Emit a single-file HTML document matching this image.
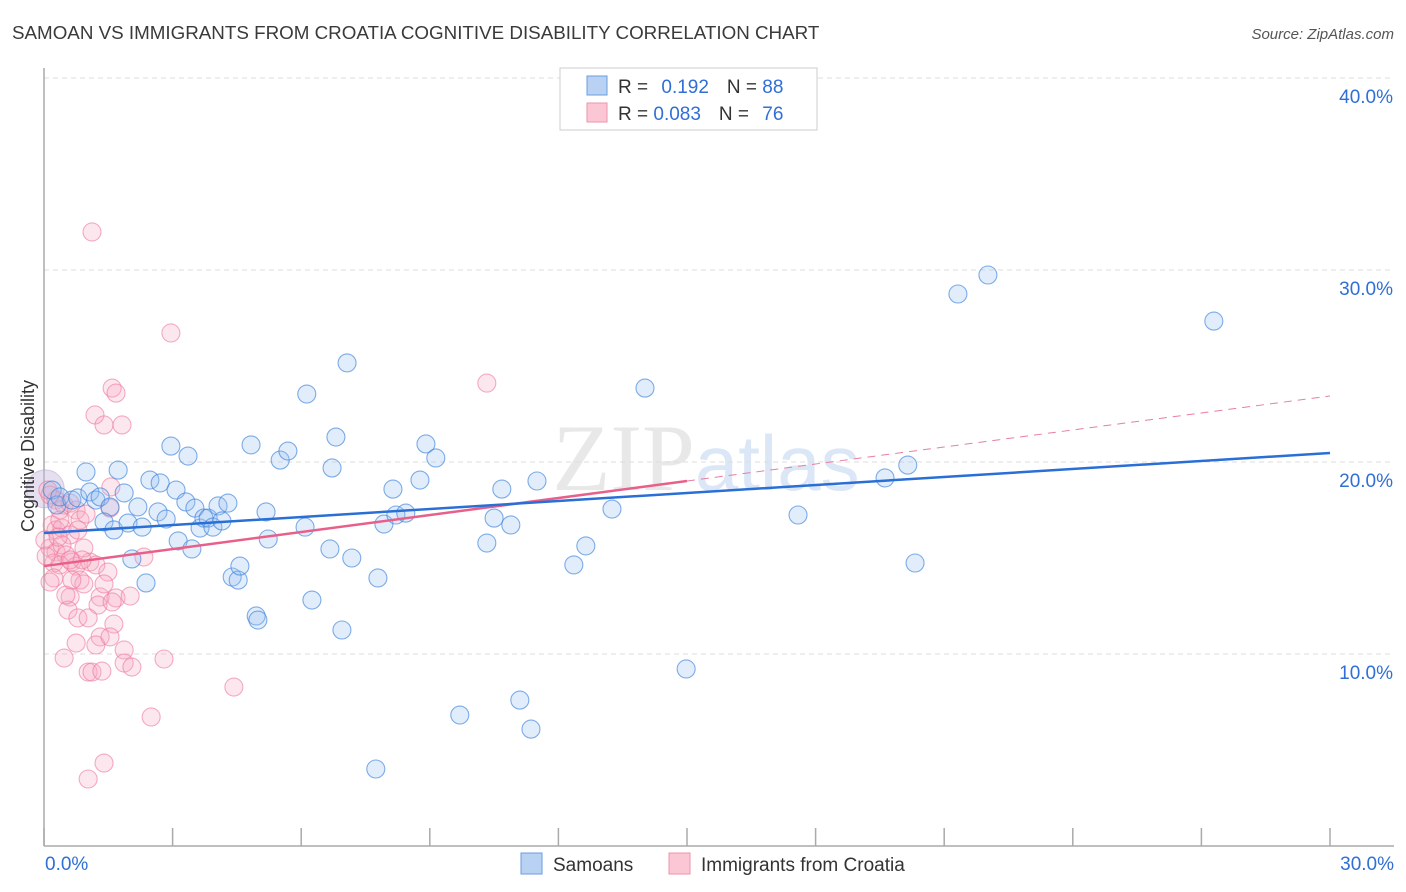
<!DOCTYPE html>
<html><head><meta charset="utf-8"><style>
body{margin:0;background:#fff;font-family:"Liberation Sans",sans-serif}
svg{display:block}
</style></head><body>
<svg id="chart" width="1406" height="892">
<text x="12" y="39" font-size="18.8" fill="#3a3a3a">SAMOAN VS IMMIGRANTS FROM CROATIA COGNITIVE DISABILITY CORRELATION CHART</text>
<text x="1394" y="39" font-size="15" fill="#555" text-anchor="end" font-style="italic">Source: ZipAtlas.com</text>
<text x="706" y="490" font-size="95" fill="#e8e8e8" text-anchor="middle" font-family="Liberation Serif,serif">ZIP<tspan fill="#dbe7f6" font-family="Liberation Sans,sans-serif" font-size="78">atlas</tspan></text>
<g id="grid"></g>
<g id="axes"></g>
<g id="points"></g>
<g id="trends"></g>
<text transform="translate(34,456) rotate(-90)" font-size="18" fill="#333" text-anchor="middle">Cognitive Disability</text>
<g>
<rect x="560" y="68" width="257" height="62" fill="#fff" stroke="#ccc"/>
<rect x="587" y="76" width="20" height="19" fill="#b9d2f3" stroke="#6a9de0"/>
<rect x="587" y="103" width="20" height="19" fill="#fbc7d5" stroke="#ee93ad"/>
<text x="618" y="93" font-size="19" fill="#333">R = <tspan fill="#2f6fd6" dx="8">0.192</tspan><tspan dx="18" fill="#333">N = </tspan><tspan fill="#2f6fd6">88</tspan></text>
<text x="618" y="120" font-size="19" fill="#333">R = <tspan fill="#2f6fd6">0.083</tspan><tspan dx="18" fill="#333">N = </tspan><tspan fill="#2f6fd6" dx="8">76</tspan></text>
</g>
<g>
<rect x="521" y="853" width="21" height="21" fill="#b9d2f3" stroke="#6a9de0"/>
<text x="553" y="871" font-size="19" fill="#333">Samoans</text>
<rect x="669" y="853" width="21" height="21" fill="#fbc7d5" stroke="#ee93ad"/>
<text x="701" y="871" font-size="19" fill="#333">Immigrants from Croatia</text>
</g>
</svg>
<script>
const yTicks=[10,20,30,40];
const yTickLabels=["10.0%","20.0%","30.0%","40.0%"];
const xTicks=[0,3,6,9,12,15,18,21,24,27,30];
const xEndLabels=["0.0%","30.0%"];
const samoaX=[0.19,0.30,0.37,0.65,0.79,0.98,1.07,1.21,1.31,1.54,1.73,1.87,1.40,1.63,1.96,2.19,2.29,2.38,2.05,2.47,2.66,2.71,2.85,2.96,3.08,3.13,3.31,3.36,3.45,3.52,3.64,3.73,3.83,3.94,4.06,4.15,4.29,4.39,4.53,4.57,4.83,4.95,4.99,5.18,5.23,5.51,5.69,6.09,6.13,6.25,6.67,6.72,6.81,6.95,7.07,7.18,7.79,7.74,7.93,8.14,8.21,8.44,8.77,8.91,9.14,9.70,10.33,10.50,10.68,10.89,11.10,11.36,11.50,12.36,12.64,13.25,14.02,14.98,17.59,19.62,20.15,20.32,21.32,22.02,27.29];
const samoaY=[18.54,17.76,18.18,18.02,18.13,19.48,18.44,18.02,18.18,17.66,19.58,18.39,16.88,16.46,16.82,17.66,16.61,13.70,14.95,19.06,17.40,18.91,17.03,20.83,18.54,15.89,17.92,20.31,15.47,17.60,16.56,17.08,17.08,16.61,17.71,16.93,17.86,14.01,13.85,14.58,20.89,11.98,11.77,17.40,15.99,20.10,20.57,16.61,23.54,12.81,15.47,19.69,21.30,11.25,25.16,15.00,13.96,4.01,16.77,18.59,17.24,17.34,19.06,20.94,20.21,6.82,15.78,17.08,18.59,16.72,7.60,6.09,19.01,14.64,15.63,17.55,23.85,9.22,17.24,19.17,19.84,14.74,28.75,29.74,27.34];
const croX=[1.12,2.96,1.59,1.68,1.19,1.40,1.82,10.33,1.56,0.14,0.28,0.37,0.47,0.61,0.75,0.84,0.98,0.19,0.28,0.42,0.61,0.79,0.14,0.28,0.42,0.51,0.65,0.23,0.37,0.75,1.07,1.21,2.33,1.49,0.84,0.61,0.93,1.31,1.26,1.68,1.59,0.56,0.79,1.03,1.63,1.31,0.75,1.21,1.54,1.87,0.47,1.87,2.05,2.80,1.03,1.12,1.35,4.43,2.50,1.40,1.03,0.09,0.37,0.02,0.05,0.93,0.51,0.23,2.01,1.40,0.65,0.33,0.89,1.54,0.61,0.14];
const croY=[31.98,26.72,23.85,23.59,22.45,21.93,21.93,24.11,18.70,18.28,18.02,17.50,17.76,17.86,17.50,16.98,17.29,16.72,16.46,16.56,16.20,16.46,15.52,15.31,15.68,15.16,14.79,14.74,14.64,14.58,14.79,14.64,15.05,14.27,13.85,12.97,13.65,12.97,12.55,12.92,12.71,12.29,11.88,11.88,11.56,10.89,10.57,10.47,10.89,10.21,9.79,9.53,9.32,9.74,9.06,9.06,9.11,8.28,6.72,4.32,3.49,18.54,16.98,15.94,15.10,15.52,13.07,13.96,13.02,13.65,13.85,16.09,14.90,17.60,14.90,13.75];
const samoaTrend=[16.30,20.47];
const croTrend=[14.58,23.44];
const croSolidEnd=15;

const NS="http://www.w3.org/2000/svg";
const X0=44,X1=1330,Y0=846,PXY=19.2;
function sx(v){return X0+(X1-X0)*v/30;}
function sy(v){return Y0-v*PXY;}
function mk(tag,attrs,parent){const e=document.createElementNS(NS,tag);for(const k in attrs)e.setAttribute(k,attrs[k]);parent.appendChild(e);return e;}
const grid=document.getElementById('grid'),axes=document.getElementById('axes'),pts=document.getElementById('points'),tr=document.getElementById('trends');
yTicks.forEach((t,i)=>{
  const l=mk('line',{x1:X0,x2:1394,y1:sy(t),y2:sy(t),stroke:'#ddd','stroke-dasharray':'5,4'},grid);
  
  
  const tx=mk('text',{x:1393,y:sy(t)+25,'font-size':19,fill:'#2f6fd6','text-anchor':'end'},grid);
  tx.textContent=yTickLabels[i];
  
  
});
const ax=mk('line',{x1:X0,x2:X0,y1:68,y2:Y0,stroke:'#aaa','stroke-width':1.5},axes);


const bx=mk('line',{x1:X0,x2:1394,y1:Y0,y2:Y0,stroke:'#aaa','stroke-width':1.5},axes);


xTicks.forEach(t=>{
  const l=mk('line',{x1:sx(t),x2:sx(t),y1:828,y2:Y0,stroke:'#aaa','stroke-width':1.5},axes);
  
  
});
[[0,'start',45],[30,'end',1394]].forEach((d,i)=>{
  const tx=mk('text',{x:d[2],y:870,'font-size':19,fill:'#2f6fd6','text-anchor':d[1]},axes);
  tx.textContent=xEndLabels[i];
  
  
});
const big=mk('circle',{cx:sx(0.03),cy:sy(18.6),r:19,fill:'rgba(200,185,220,0.45)',stroke:'rgba(180,160,205,0.5)'},pts);


croX.forEach((x,i)=>{
  const c=mk('circle',{cx:sx(x),cy:sy(croY[i]),r:9,fill:'rgba(248,170,195,0.28)',stroke:'rgba(236,120,155,0.6)','stroke-width':1.1},pts);
  
  
});
samoaX.forEach((x,i)=>{
  const c=mk('circle',{cx:sx(x),cy:sy(samoaY[i]),r:9,fill:'rgba(150,190,240,0.28)',stroke:'rgba(60,130,220,0.65)','stroke-width':1.1},pts);
  
  
});
function lin(tr2,x){return tr2[0]+(tr2[1]-tr2[0])*x/30;}
const cd=mk('line',{x1:sx(croSolidEnd),y1:sy(lin(croTrend,croSolidEnd)),x2:sx(30),y2:sy(croTrend[1]),stroke:'#e87ea0','stroke-width':1,'stroke-dasharray':'8,6'},tr);


const cs=mk('line',{x1:sx(0),y1:sy(croTrend[0]),x2:sx(croSolidEnd),y2:sy(lin(croTrend,croSolidEnd)),stroke:'#e8608a','stroke-width':2.5},tr);


const bl=mk('line',{x1:sx(0),y1:sy(samoaTrend[0]),x2:sx(30),y2:sy(samoaTrend[1]),stroke:'#2a6fd6','stroke-width':2.5},tr);


</script>
</body></html>
